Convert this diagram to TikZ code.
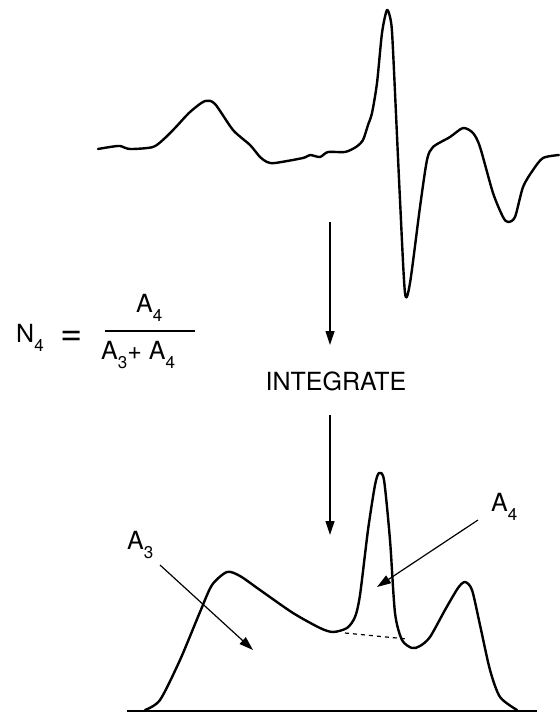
\documentclass[tikz,border=0pt]{standalone}
\usepackage{fontspec}
\setmainfont{TeX Gyre Heros}
\usetikzlibrary{arrows.meta}
\newcommand\lowsub[1]{\raisebox{-0.38em}{\fontsize{17}{17}\selectfont #1}}
\tikzset{
  trace/.style={line width=2.4pt, line join=round, line cap=round},
  pointer/.style={line width=1.2pt, -{Triangle[length=14pt,width=9pt]}},
  lbl/.style={inner sep=0pt, font=\fontsize{25}{25}\selectfont},
}
\begin{document}
\begin{tikzpicture}[x=1pt,y=-1pt]
\useasboundingbox (0,0) rectangle (559,714);
% top trace
\draw[trace] plot[smooth, tension=0.45] coordinates {
 (98,149) (110,147) (120,146) (130,149) (153,147) (165,138) (175,128) (190,112) (205,101) (215,104)
 (233,130) (250,145) (260,157) (267,162) (275,163) (303,158) (310,155) (320,157) (328,152) (345,152)
 (356,147) (363,140) (368,125) (372,113) (377,83) (382,33) (387,10) (391,22) (393,50)
 (400,200) (405,293) (410,283) (420,207) (427,160) (433,147) (450,137) (463,128) (473,133)
 (480,147) (493,193) (503,217) (508,222) (515,217) (523,187) (533,170) (543,158) (559,155)};
% bottom trace
\draw[line width=2pt] (127,711) -- (537,711);
\draw[trace] plot[smooth, tension=0.45] coordinates {
 (145,710) (160,700) (180,660) (200,612) (212,585) (227,572) (240,576) (260,590) (293,613)
 (320,628) (333,632) (347,628) (355,617) (360,595) (368,530) (375,485) (379,473) (384,480)
 (390,540) (395,613) (402,640) (412,648) (420,646) (430,637) (445,610) (458,588) (465,582)
 (472,590) (480,625) (490,670) (500,697) (517,710)};
\draw[line width=1.2pt, dash pattern=on 4pt off 4pt] (345,633) -- (407,639);
% vertical arrows
\coordinate (s1) at (330,222);
\coordinate (e1) at (330,345);
\coordinate (s2) at (330,415);
\coordinate (e2) at (330,535);
\draw[pointer] (s1) -- (e1);
\draw[pointer] (s2) -- (e2);
\node[inner sep=0pt, font=\fontsize{25}{25}\selectfont, anchor=base] (integ) at (336,390) {INTEGRATE};
% labels A3, A4
\node[lbl, anchor=base west] (a3) at (127,549) {A\lowsub{3}};
\node[lbl, anchor=base west] (a4) at (491,511) {A\lowsub{4}};
\coordinate (a3s) at (160,565);
\coordinate (a3e) at (253,650);
\coordinate (a4s) at (478,520);
\coordinate (a4e) at (377,587);
\draw[pointer] (a3s) -- (a3e);
\draw[pointer] (a4s) -- (a4e);
% formula
\node[lbl, anchor=base west] (n4) at (16,342) {N\lowsub{4}};
\node[lbl, anchor=base, font=\fontsize{38}{38}\selectfont] (eq) at (72,345) {=};
\node[lbl, anchor=base west] (num) at (136,312) {A\lowsub{4}};
\node[lbl, anchor=base west] (den) at (101,359) {A\lowsub{3}+ A\lowsub{4}};
\draw[line width=1.3pt] (105,331) -- (195,331);
\end{tikzpicture}
\end{document}
